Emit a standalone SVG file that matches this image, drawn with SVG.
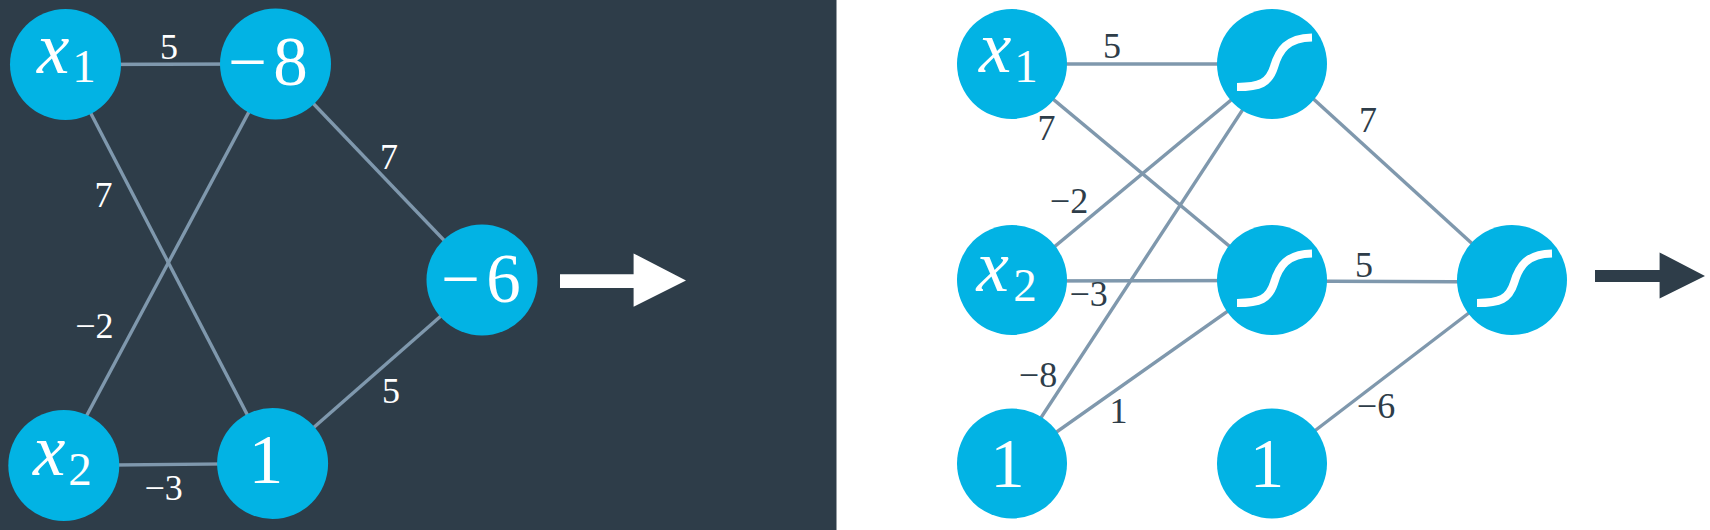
<svg xmlns="http://www.w3.org/2000/svg" width="1710" height="530" viewBox="0 0 1710 530">
<style>
.n{fill:#02b3e4}
.e line{stroke:#7f98ad;stroke-width:3.4;fill:none}
text{font-family:"Liberation Serif","Times New Roman",serif}
.b{font-size:69px;fill:#fff;text-anchor:middle}
.m{letter-spacing:6px}
.x{font-size:73px;fill:#fff;font-style:italic}
.s{font-size:47px;fill:#fff;text-anchor:middle}
.w{font-size:36px;fill:#fff;text-anchor:middle}
.d{font-size:36px;fill:#2e3d49;text-anchor:middle}
.c{fill:none;stroke:#fff;stroke-width:8.2}
</style>
<defs><path id="sig" class="c" d="M-35 23C-12 23-3 19 2 3C7-14 15-26 40-26.500"/></defs>
<rect width="1710" height="530" fill="#fff"/>
<rect id="panel" width="836.5" height="530" fill="#2e3d49"/>
<g id="connectors" class="e">
<line x1="65.5" y1="64.5" x2="275.5" y2="64"/>
<line x1="65.5" y1="64.5" x2="272.6" y2="463.5"/>
<line x1="60" y1="465.5" x2="274.5" y2="64"/>
<line x1="63.8" y1="465.5" x2="272.6" y2="463.5"/>
<line x1="275.5" y1="64" x2="482" y2="280"/>
<line x1="272.6" y1="463.5" x2="482" y2="280"/>
<line x1="1012" y1="64" x2="1272" y2="64"/>
<line x1="1012" y1="65" x2="1270" y2="280"/>
<line x1="1012" y1="282" x2="1272" y2="66"/>
<line x1="1012" y1="281" x2="1272" y2="280.500"/>
<line x1="1011" y1="463.500" x2="1272" y2="65"/>
<line x1="1012" y1="463.500" x2="1272" y2="280"/>
<line x1="1274" y1="63" x2="1512" y2="280"/>
<line x1="1272" y1="281" x2="1512" y2="282"/>
<line x1="1272" y1="463.500" x2="1512" y2="280"/>
</g>
<g id="l-x1"><circle class="n" cx="65.500" cy="64.500" r="55.500"/><text class="x" x="37" y="72.600">x</text><text class="s" x="84" y="82">1</text></g>
<g id="l-m8"><circle class="n" cx="275.500" cy="64" r="55.500"/><text class="b m" x="271" y="84.500">−8</text></g>
<g id="l-x2"><circle class="n" cx="63.800" cy="465.500" r="55.500"/><text class="x" x="33" y="474.700">x</text><text class="s" x="80" y="485">2</text></g>
<g id="l-1"><circle class="n" cx="272.600" cy="463.500" r="55.500"/><text class="b" x="266" y="483">1</text></g>
<g id="l-m6"><circle class="n" cx="482" cy="280" r="55.500"/><text class="b m" x="484" y="301.700">−6</text></g>
<g id="r-x1"><circle class="n" cx="1012" cy="64" r="55"/><text class="x" x="979" y="72">x</text><text class="s" x="1026" y="82">1</text></g>
<g id="r-x2"><circle class="n" cx="1012" cy="280" r="55"/><text class="x" x="976.600" y="291">x</text><text class="s" x="1025" y="301">2</text></g>
<g id="r-1"><circle class="n" cx="1012" cy="463.500" r="55"/><text class="b" x="1007.600" y="486.500">1</text></g>
<g id="r-s1"><circle class="n" cx="1272" cy="64" r="55"/><use href="#sig" x="1272" y="64"/></g>
<g id="r-s2"><circle class="n" cx="1272" cy="280" r="55"/><use href="#sig" x="1272" y="280"/></g>
<g id="r-s3"><circle class="n" cx="1512" cy="280" r="55"/><use href="#sig" x="1512" y="280"/></g>
<g id="r-1b"><circle class="n" cx="1272" cy="463.500" r="55"/><text class="b" x="1267" y="486.500">1</text></g>
<g id="labels-left">
<text class="w" x="169" y="59">5</text>
<text class="w" x="103.600" y="207">7</text>
<text class="w" x="389" y="169">7</text>
<text class="w" x="94.300" y="338">−2</text>
<text class="w" x="391" y="403">5</text>
<text class="w" x="163.600" y="500">−3</text>
</g>
<g id="labels-right">
<text class="d" x="1112" y="58.400">5</text>
<text class="d" x="1046.400" y="140">7</text>
<text class="d" x="1368" y="131.800">7</text>
<text class="d" x="1069" y="212.800">−2</text>
<text class="d" x="1088.600" y="305.700">−3</text>
<text class="d" x="1364" y="277">5</text>
<text class="d" x="1038" y="386.800">−8</text>
<text class="d" x="1118.600" y="423">1</text>
<text class="d" x="1376" y="418">−6</text>
</g>
<path id="arrow-left" fill="#fff" d="M560 274.300H633.600V253.400L686 280.400L633.600 306.800V288H560Z"/>
<path id="arrow-right" fill="#2e3d49" d="M1595 270H1659.600V252.400L1705 276L1659.600 298.600V282H1595Z"/>
</svg>
